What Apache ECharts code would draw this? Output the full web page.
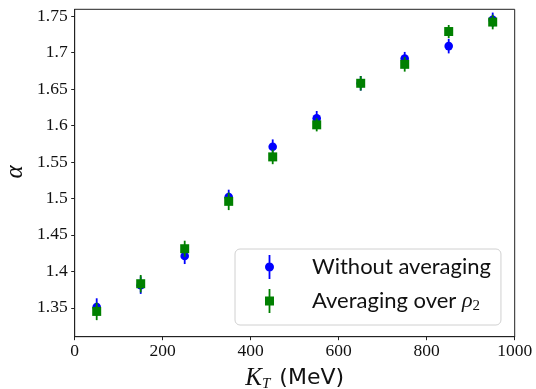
<!DOCTYPE html>
<html>
<head>
<meta charset="utf-8">
<script src="https://cdn.jsdelivr.net/npm/echarts@6/dist/echarts.min.js"></script>
<style>html,body{margin:0;padding:0;background:#fff}#c{width:536px;height:389px}</style>
</head>
<body>
<div id="c"></div>
<script>
const kt = [50, 150, 250, 350, 450, 550, 650, 750, 850, 950];
const blueVals = [1.351, 1.381, 1.421, 1.502, 1.571, 1.610, 1.658, 1.692, 1.709, 1.745];
const blueErr  = [0.012, 0.012, 0.011, 0.010, 0.010, 0.010, 0.010, 0.009, 0.010, 0.010];
const greenVals = [1.345, 1.383, 1.431, 1.496, 1.557, 1.601, 1.658, 1.684, 1.729, 1.742];
const greenErr  = [0.012, 0.012, 0.011, 0.012, 0.010, 0.009, 0.010, 0.010, 0.009, 0.010];
const yTicks = [1.35, 1.4, 1.45, 1.5, 1.55, 1.6, 1.65, 1.7, 1.75];
const seriesNames = ['Without averaging', 'Averaging over ρ2'];

const chart = echarts.init(document.getElementById('c'), null, {renderer: 'canvas'});

function makeSeries(name, vals, errs, color, shape) {
  return {
    name: name,
    type: 'custom',
    itemStyle: {color: color},
    data: kt.map((x, i) => [x, vals[i], errs[i]]),
    encode: {x: 0, y: 1},
    renderItem: function (params, api) {
      const x = api.value(0), v = api.value(1), e = api.value(2);
      const p = api.coord([x, v]);
      const lo = api.coord([x, v - e]);
      const hi = api.coord([x, v + e]);
      const children = [{
        type: 'line',
        shape: {x1: p[0], y1: lo[1], x2: p[0], y2: hi[1]},
        style: {stroke: color, lineWidth: 1.8}
      }];
      if (shape === 'circle') {
        children.push({type: 'circle', shape: {cx: p[0], cy: p[1], r: 4.3}, style: {fill: color}});
      } else {
        children.push({type: 'rect', shape: {x: p[0] - 4.5, y: p[1] - 4.5, width: 9, height: 9}, style: {fill: color}});
      }
      return {type: 'group', children: children};
    },
    z: 3
  };
}

const serif = 'Liberation Serif';
chart.setOption({
  animation: false,
  grid: {left: 74.7, right: 21.3, top: 9.3, bottom: 52.3, containLabel: false, outerBoundsMode: 'none',
    show: true, borderColor: '#222', borderWidth: 1, backgroundColor: 'transparent'},
  xAxis: {
    type: 'value', min: 0, max: 1000, interval: 200,
    axisLine: {show: true, onZero: false, lineStyle: {color: '#222', width: 1}},
    axisTick: {show: true, length: 3.5, lineStyle: {color: '#222'}},
    splitLine: {show: false},
    axisLabel: {color: '#111', fontFamily: serif, fontSize: 17.5, margin: 6, formatter: v => String(v)},
    name: '{k|K}{t|T}{m|(MeV)}',
    nameLocation: 'middle', nameGap: 26,
    nameTextStyle: {
      rich: {
        k: {fontFamily: serif, fontStyle: 'italic', fontSize: 25, color: '#111', lineHeight: 26},
        t: {fontFamily: serif, fontStyle: 'italic', fontSize: 15, color: '#111', verticalAlign: 'bottom', lineHeight: 26},
        m: {fontFamily: 'DejaVu Sans', fontSize: 22, color: '#111', lineHeight: 26, padding: [0, 0, 0, 9]}
      }
    }
  },
  yAxis: {
    type: 'value', min: 1.3103, max: 1.7595,
    axisLine: {show: true, onZero: false, lineStyle: {color: '#222', width: 1}},
    axisTick: {show: true, length: 3.5, lineStyle: {color: '#222'}, customValues: yTicks},
    splitLine: {show: false},
    axisLabel: {color: '#111', fontFamily: serif, fontSize: 17.5, margin: 7, customValues: yTicks,
      formatter: v => String(+v.toFixed(2))}
  },
  graphic: [{
    type: 'text', x: 15, y: 172, rotation: Math.PI / 2,
    style: {text: 'α', fontFamily: serif, fontStyle: 'italic', fontSize: 25, fill: '#111', align: 'center', verticalAlign: 'middle'}
  }],
  legend: {
    orient: 'vertical', left: 235, top: 249,
    padding: [6, 10, 11, 30], itemGap: 10,
    itemWidth: 9, itemHeight: 24,
    borderColor: '#d0d0d0', borderWidth: 1, borderRadius: 5, backgroundColor: 'rgba(255,255,255,0.8)',
    data: [
      {name: seriesNames[0], icon: 'path://M4.1,0H5.9V24H4.1Z M0.5,12A4.5,4.5 0 1 1 9.5,12A4.5,4.5 0 1 1 0.5,12Z'},
      {name: seriesNames[1], icon: 'path://M4.1,0H5.9V24H4.1Z M0.5,7.5H9.5V16.5H0.5Z'}
    ],
    formatter: function (name) {
      if (name === seriesNames[1]) return '{a|Averaging over }{r|ρ}{s|2}';
      return '{a|' + name + '}';
    },
    textStyle: {
      padding: [0, 0, 0, 33],
      rich: {
        a: {fontFamily: 'Lato', fontSize: 22, color: '#111', lineHeight: 26},
        r: {fontFamily: serif, fontStyle: 'italic', fontSize: 22, color: '#111', lineHeight: 26},
        s: {fontFamily: serif, fontSize: 15, color: '#111', verticalAlign: 'bottom', lineHeight: 26}
      }
    }
  },
  series: [
    makeSeries(seriesNames[0], blueVals, blueErr, '#0000ff', 'circle'),
    makeSeries(seriesNames[1], greenVals, greenErr, '#008000', 'square')
  ]
});
</script>
</body>
</html>
